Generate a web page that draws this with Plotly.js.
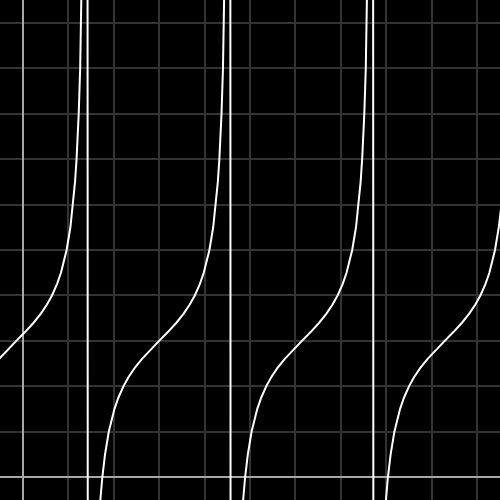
<!DOCTYPE html>
<html>
<head>
<meta charset="utf-8">
<script src="https://cdn.plot.ly/plotly-3.0.1.min.js"></script>
<style>html,body{margin:0;padding:0;background:#000;}#chart{width:500px;height:500px;}</style>
</head>
<body>
<div id="chart"></div>
<script>
// Values, branch by branch
var branch1X = [-0.5221,-0.3390,-0.1416,0.0558,0.2389,0.3988,0.5331,0.6438,0.7545,0.8412,0.9101,0.9655,1.0487,1.1074,1.1509,1.1842,1.2105,1.2318,1.2640,1.2873,1.3048,1.3295,1.4092];
var branch1Y = [2.6,2.8,3,3.2,3.4,3.6,3.8,4,4.25,4.5,4.75,5,5.5,6,6.5,7,7.5,8,9,10,11,13,53];

var branch2X = [1.4492,1.6479,1.6742,1.7075,1.7510,1.8097,1.8929,1.9483,2.0172,2.1039,2.2146,2.3253,2.4596,2.6195,2.8026,3,3.1974,3.3805,3.5404,3.6747,3.7854,3.8961,3.9828,4.0517,4.1071,4.1903,4.2490,4.2925,4.3258,4.3521,4.3734,4.4056,4.4289,4.4464,4.4711,4.5508];
var branch2Y = [-47,-1.5,-1,-0.5,0,0.5,1,1.25,1.5,1.75,2,2.2,2.4,2.6,2.8,3,3.2,3.4,3.6,3.8,4,4.25,4.5,4.75,5,5.5,6,6.5,7,7.5,8,9,10,11,13,53];

var branch3X = [4.5908,4.7895,4.8158,4.8491,4.8926,4.9513,5.0345,5.0899,5.1588,5.2455,5.3562,5.4669,5.6012,5.7611,5.9442,6.1416,6.3390,6.5221,6.6820,6.8163,6.9270,7.0377,7.1244,7.1933,7.2487,7.3319,7.3906,7.4341,7.4674,7.4937,7.5150,7.5472,7.5705,7.5880,7.6127,7.6924];
var branch3Y = [-47,-1.5,-1,-0.5,0,0.5,1,1.25,1.5,1.75,2,2.2,2.4,2.6,2.8,3,3.2,3.4,3.6,3.8,4,4.25,4.5,4.75,5,5.5,6,6.5,7,7.5,8,9,10,11,13,53];

var branch4X = [7.7324,7.9311,7.9574,7.9907,8.0342,8.0929,8.1761,8.2315,8.3004,8.3871,8.4978,8.6085,8.7428,8.9027,9.0858,9.2832,9.4806,9.6637,9.8236,9.9579,10.0686,10.1793,10.2660,10.3349,10.3903,10.4735,10.5322];
var branch4Y = [-47,-1.5,-1,-0.5,0,0.5,1,1.25,1.5,1.75,2,2.2,2.4,2.6,2.8,3,3.2,3.4,3.6,3.8,4,4.25,4.5,4.75,5,5.5,6];

var xs = branch1X.concat(branch2X, branch3X, branch4X);
var ys = branch1Y.concat(branch2Y, branch3Y, branch4Y);

var trace = {
  x: xs, y: ys, type: 'scatter', mode: 'lines',
  line: {color: '#ffffff', width: 2},
  hoverinfo: 'none', showlegend: false
};

var axisCommon = {
  range: [-0.5, 10.5], dtick: 1, tick0: 0,
  showgrid: true, gridcolor: '#333333', gridwidth: 2,
  zeroline: true, zerolinecolor: '#a8a8a8', zerolinewidth: 2,
  showticklabels: false, ticks: '', showline: false, fixedrange: true
};

var layout = {
  width: 500, height: 500,
  margin: {l: 0, r: 0, t: 0, b: 0, pad: 0},
  paper_bgcolor: '#000000', plot_bgcolor: '#000000',
  xaxis: Object.assign({}, axisCommon),
  yaxis: Object.assign({}, axisCommon),
  showlegend: false
};

Plotly.newPlot('chart', [trace], layout, {staticPlot: true, displayModeBar: false});
</script>
</body>
</html>
